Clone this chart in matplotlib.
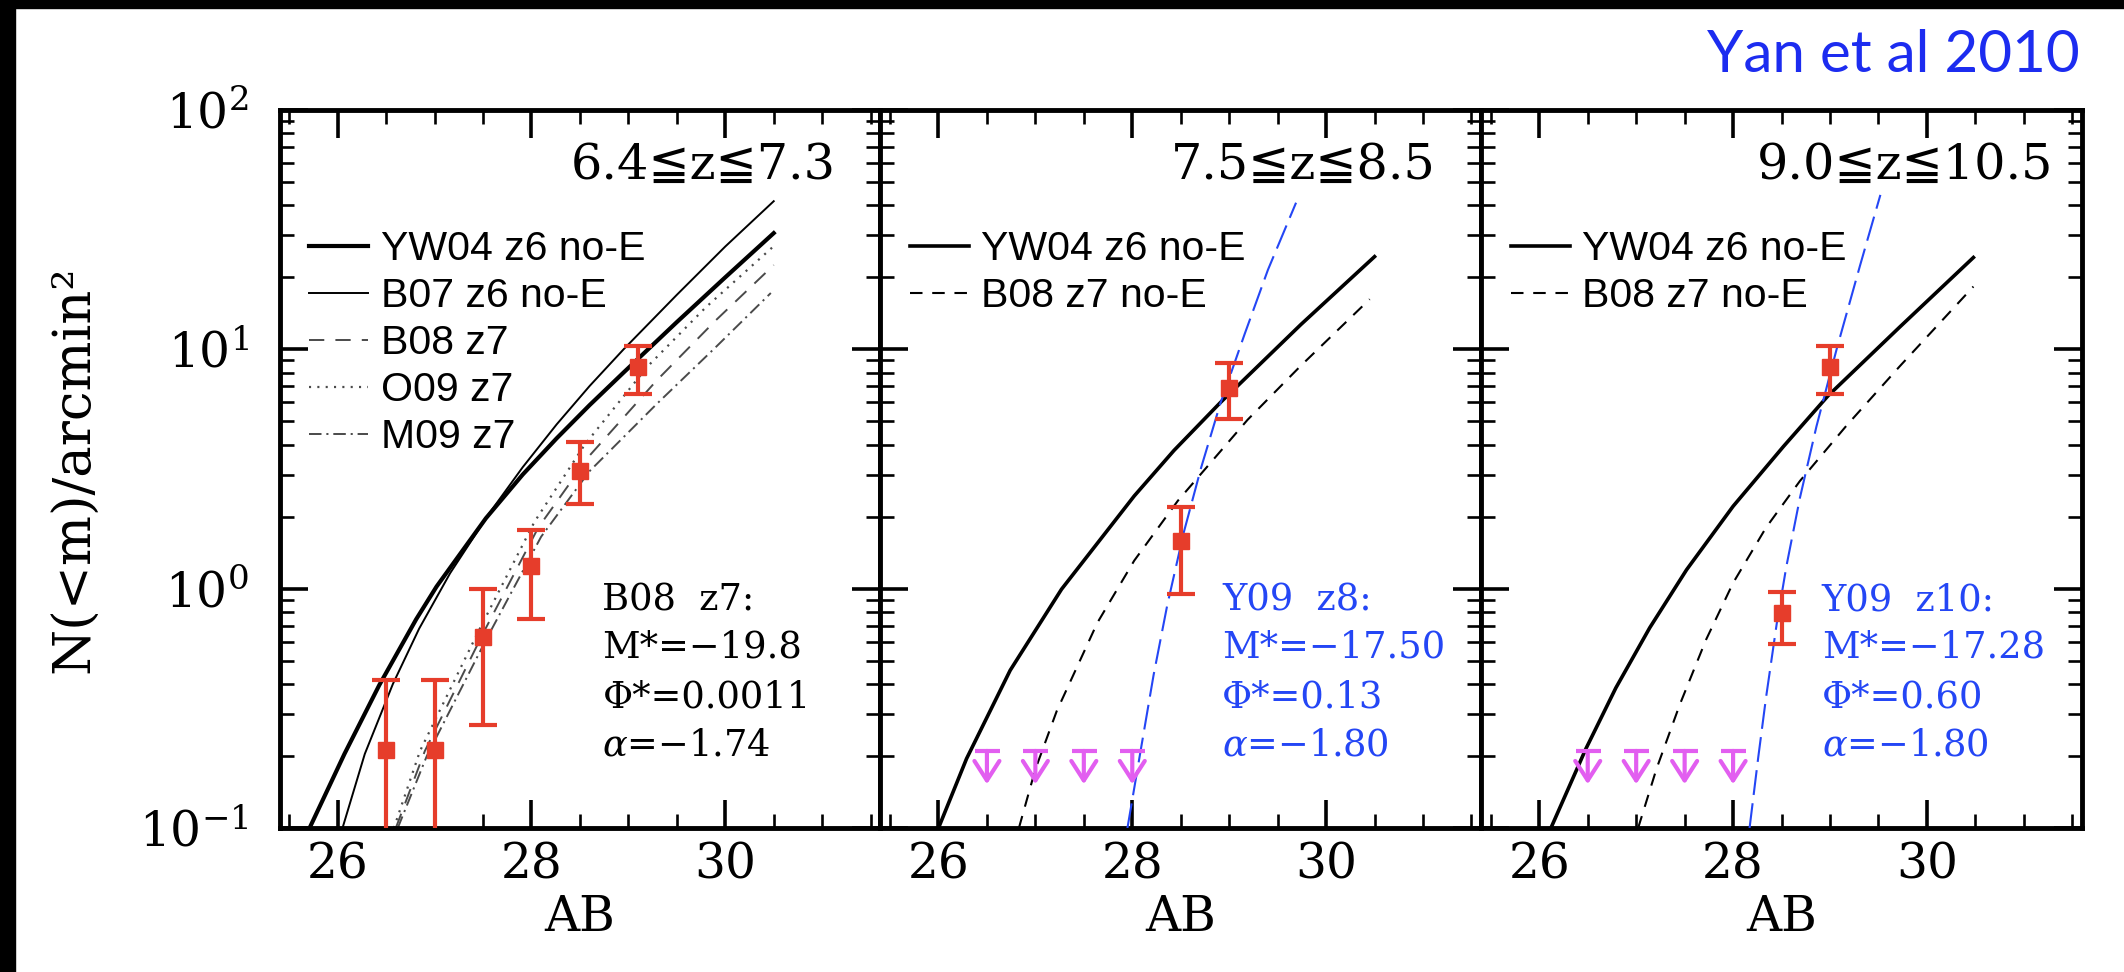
import matplotlib
matplotlib.use("Agg")
import matplotlib.pyplot as plt
from matplotlib.ticker import FixedLocator, MultipleLocator, LogLocator, NullFormatter
from matplotlib.patches import Rectangle

plt.rcParams["font.family"] = ["DejaVu Serif", "DejaVu Sans"]
plt.rcParams["mathtext.fontset"] = "dejavuserif"
plt.rcParams["lines.scale_dashes"] = False

# ---- values: AB magnitude, N(<m) per arcmin^2 ----
# panel 1 : 6.4 <= z <= 7.3
yw04_p1_m = [25.71, 26.07, 26.43, 26.81, 27.02, 27.53, 27.91, 28.26, 28.60, 28.95, 29.5, 30.0, 30.5]
yw04_p1_n = [0.10, 0.204, 0.396, 0.745, 1.02, 1.97, 3.0, 4.25, 5.85, 8.0, 13.0, 20.0, 30.6]
b07_p1_m = [26.05, 26.28, 26.57, 26.84, 27.16, 27.57, 27.91, 28.26, 28.60, 28.95, 29.5, 30.0, 30.5]
b07_p1_n = [0.10, 0.204, 0.40, 0.68, 1.16, 2.08, 3.22, 4.86, 7.03, 10.0, 16.9, 26.9, 41.6]
b08_p1_m = [26.60, 26.90, 27.50, 28.07, 28.60, 29.29, 29.90, 30.5]
b08_p1_n = [0.10, 0.21, 0.65, 1.8, 3.6, 7.4, 13.2, 22.5]
o09_p1_m = [26.58, 26.85, 27.45, 28.03, 28.55, 29.2, 29.8, 30.5]
o09_p1_n = [0.10, 0.21, 0.66, 1.9, 4.0, 8.5, 15.0, 27.0]
m09_p1_m = [26.62, 26.92, 27.52, 28.10, 28.60, 29.29, 29.90, 30.47]
m09_p1_n = [0.10, 0.20, 0.60, 1.65, 3.1, 5.9, 10.2, 17.2]
obs_p1_m = [26.5, 27.0, 27.5, 28.0, 28.5, 29.1]
obs_p1_n = [0.211, 0.211, 0.63, 1.25, 3.1, 8.4]
obs_p1_hi = [0.417, 0.417, 1.0, 1.76, 4.1, 10.3]
obs_p1_lo = [0.01, 0.01, 0.27, 0.75, 2.26, 6.5]

# panel 2 : 7.5 <= z <= 8.5
yw04_p2_m = [26.00, 26.29, 26.74, 27.27, 28.02, 28.43, 28.91, 29.74, 30.50]
yw04_p2_n = [0.10, 0.195, 0.456, 0.995, 2.44, 3.78, 6.0, 12.7, 24.4]
b08_p2_m = [26.83, 27.00, 27.22, 27.64, 28.02, 28.47, 29.19, 29.74, 30.45]
b08_p2_n = [0.10, 0.176, 0.308, 0.721, 1.31, 2.33, 5.08, 8.55, 16.2]
y09_p2_m = [27.95, 28.09, 28.22, 28.36, 28.53, 28.71, 28.91, 29.16, 29.40, 29.69]
y09_p2_n = [0.10, 0.215, 0.436, 0.85, 1.71, 3.2, 5.96, 11.6, 21.5, 41.0]
obs_p2_m = [28.5, 29.0]
obs_p2_n = [1.58, 6.9]
obs_p2_hi = [2.2, 8.75]
obs_p2_lo = [0.95, 5.1]

# panel 3 : 9.0 <= z <= 10.5
yw04_p3_m = [26.12, 26.48, 26.79, 27.14, 27.52, 28.00, 28.52, 28.98, 29.72, 30.48]
yw04_p3_n = [0.10, 0.214, 0.385, 0.687, 1.20, 2.21, 3.93, 6.4, 12.4, 24.2]
b08_p3_m = [27.02, 27.21, 27.45, 27.72, 28.00, 28.34, 28.69, 29.17, 29.72, 30.48]
b08_p3_n = [0.10, 0.177, 0.328, 0.611, 1.057, 1.80, 2.82, 4.8, 8.5, 18.3]
y09_p3_m = [28.17, 28.26, 28.34, 28.45, 28.55, 28.69, 28.86, 29.07, 29.31, 29.52]
y09_p3_n = [0.10, 0.198, 0.351, 0.713, 1.24, 2.40, 4.76, 10.07, 22.4, 44.2]
obs_p3_m = [28.5, 29.0]
obs_p3_n = [0.79, 8.46]
obs_p3_hi = [0.97, 10.3]
obs_p3_lo = [0.59, 6.5]

# upper limits (panels 2 and 3)
lim_m = [26.5, 27.0, 27.5, 28.0]
lim_n = [0.21, 0.21, 0.21, 0.21]

x_ticks = [26, 28, 30]
titles = ["6.4≦z≦7.3", "7.5≦z≦8.5", "9.0≦z≦10.5"]
fit_text = [
    ["B08  z7:", "M*=−19.8", "Φ*=0.0011", r"$\alpha$=−1.74"],
    ["Y09  z8:", "M*=−17.50", "Φ*=0.13", r"$\alpha$=−1.80"],
    ["Y09  z10:", "M*=−17.28", "Φ*=0.60", r"$\alpha$=−1.80"],
]

RED = "#e63d2b"
BLUE = "#2446f5"
MAGENTA = "#e25ef0"
GREY = "#4a4a4a"


def style_axes(ax):
    ax.set_yscale("log")
    ax.set_xlim(25.4, 31.6)
    ax.set_ylim(0.1, 100)
    ax.xaxis.set_major_locator(FixedLocator(x_ticks))
    ax.xaxis.set_minor_locator(MultipleLocator(0.5))
    ax.yaxis.set_major_locator(LogLocator(base=10))
    ax.yaxis.set_minor_locator(LogLocator(base=10, subs=range(2, 10)))
    ax.yaxis.set_minor_formatter(NullFormatter())
    ax.tick_params(which="both", direction="in", top=True, right=True)
    ax.tick_params(which="major", length=20, width=2.6, labelsize=35)
    ax.tick_params(which="minor", length=10, width=1.9)
    ax.tick_params(axis="x", which="major", pad=10)
    ax.tick_params(axis="y", which="major", pad=22)
    for s in ax.spines.values():
        s.set_linewidth(3.5)
    ax.set_xlabel("AB", fontsize=35, labelpad=4)


def draw_obs(ax, m, n, hi, lo):
    err = [[a - b for a, b in zip(n, lo)], [b - a for a, b in zip(n, hi)]]
    ax.errorbar(m, n, yerr=err, fmt="s", color=RED, ms=12, elinewidth=3,
                capsize=10, capthick=3, zorder=5)


def draw_limits(ax):
    ax.plot(lim_m, lim_n, linestyle="none", marker="_", ms=18, mew=3,
            color=MAGENTA, zorder=5)
    for m, n in zip(lim_m, lim_n):
        ax.annotate("", xy=(m, n), xytext=(0, -24), textcoords="offset points",
                    arrowprops=dict(arrowstyle="<-,head_length=0.7,head_width=0.45",
                                    mutation_scale=20, lw=3, color=MAGENTA,
                                    shrinkA=0, shrinkB=0), zorder=5)


fig, axes = plt.subplots(1, 3, figsize=(21.24, 9.72), dpi=100, sharey=True)
fig.subplots_adjust(left=0.1316, right=0.9802, bottom=0.1481, top=0.8868, wspace=0)

leg_font = {"family": "Liberation Sans", "size": 29.5}

# panel 1
ax = axes[0]
ax.plot(yw04_p1_m, yw04_p1_n, color="black", lw=3, label="YW04 z6 no-E")
ax.plot(b07_p1_m, b07_p1_n, color="black", lw=1.4, label="B07 z6 no-E")
ax.plot(b08_p1_m, b08_p1_n, color=GREY, lw=1.4, dashes=(11, 8), label="B08 z7")
ax.plot(o09_p1_m, o09_p1_n, color=GREY, lw=1.6, dashes=(1.5, 4.5), label="O09 z7")
ax.plot(m09_p1_m, m09_p1_n, color=GREY, lw=1.4, dashes=(9, 3.5, 1.5, 3.5), label="M09 z7")
draw_obs(ax, obs_p1_m, obs_p1_n, obs_p1_hi, obs_p1_lo)
ax.set_ylabel("N(<m)/arcmin²", fontsize=38, labelpad=28)

# panel 2
ax = axes[1]
ax.plot(yw04_p2_m, yw04_p2_n, color="black", lw=2.6, label="YW04 z6 no-E")
ax.plot(b08_p2_m, b08_p2_n, color="black", lw=1.5, dashes=(9, 7), label="B08 z7 no-E")
ax.plot(y09_p2_m, y09_p2_n, color=BLUE, lw=1.5, dashes=(18, 6), zorder=4)
draw_obs(ax, obs_p2_m, obs_p2_n, obs_p2_hi, obs_p2_lo)
draw_limits(ax)

# panel 3
ax = axes[2]
ax.plot(yw04_p3_m, yw04_p3_n, color="black", lw=2.6, label="YW04 z6 no-E")
ax.plot(b08_p3_m, b08_p3_n, color="black", lw=1.5, dashes=(9, 7), label="B08 z7 no-E")
ax.plot(y09_p3_m, y09_p3_n, color=BLUE, lw=1.5, dashes=(18, 6), zorder=4)
draw_obs(ax, obs_p3_m, obs_p3_n, obs_p3_hi, obs_p3_lo)
draw_limits(ax)

title_x = [0.925, 0.925, 0.952]
text_x = [0.5375, 0.569, 0.567]
text_y = [0.3175, 0.252, 0.1825, 0.1156]
text_col = ["black", BLUE, BLUE]
for i, ax in enumerate(axes):
    style_axes(ax)
    ax.legend(loc="upper left", bbox_to_anchor=(0.049, 0.833), frameon=False,
              prop=leg_font, handlelength=1.45, handletextpad=0.3,
              labelspacing=0.22, borderpad=0, borderaxespad=0)
    ax.text(title_x[i], 0.923, titles[i], transform=ax.transAxes, ha="right",
            va="center", fontsize=35.5)
    for line, ty in zip(fit_text[i], text_y):
        ax.text(text_x[i], ty, line, transform=ax.transAxes, ha="left",
                va="center", fontsize=26.5, color=text_col[i])

fig.text(0.9793, 0.9424, "Yan et al 2010", ha="right", va="center",
         color="#1c2cf0", fontsize=42, family="Lato")

# black frame strips of the original screenshot
fig.add_artist(Rectangle((0, 0), 15 / 2124, 1, transform=fig.transFigure,
                         color="black", zorder=10))
fig.add_artist(Rectangle((0, 1 - 8 / 972), 1, 8 / 972, transform=fig.transFigure,
                         color="black", zorder=10))

fig.savefig("out.png", dpi=100)
